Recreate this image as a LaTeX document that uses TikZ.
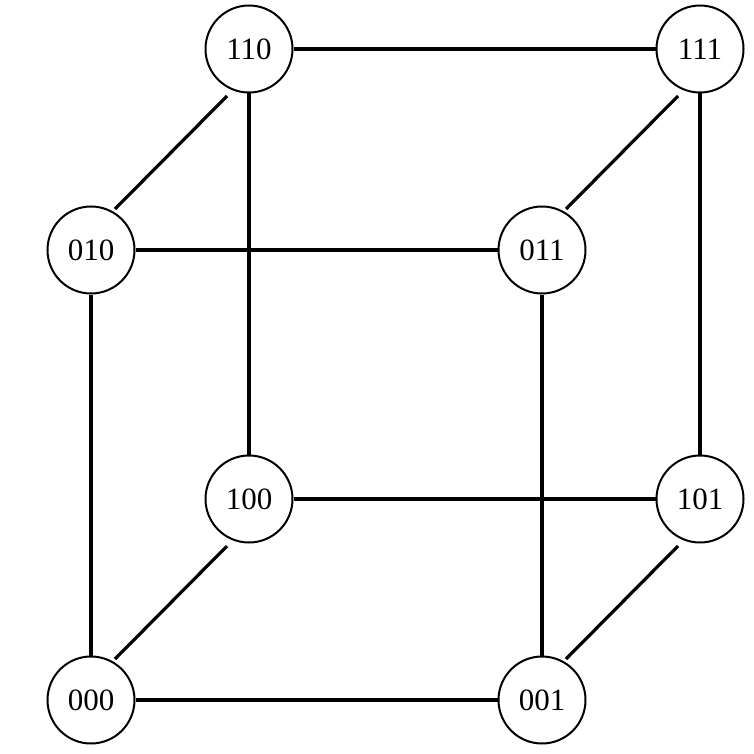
\documentclass[tikz,border=0pt]{standalone}
\usepackage{fontspec}
\setmainfont{Liberation Serif}
\usetikzlibrary{calc}
\begin{document}
\begin{tikzpicture}[x=1pt,y=-1pt,
  vtx/.style={circle,draw,line width=2pt,minimum size=87pt,inner sep=0pt,fill=white,font=\fontsize{31}{33}\selectfont},
  edge/.style={line width=3.2pt}]
\useasboundingbox[fill=white] (0,0) rectangle (753,754);
\node[vtx] (n110) at (249,49) {110};
\node[vtx] (n111) at (700,49) {111};
\node[vtx] (n010) at (91,250) {010};
\node[vtx] (n011) at (542,250) {011};
\node[vtx] (n100) at (249,499) {100};
\node[vtx] (n101) at (700,499) {101};
\node[vtx] (n000) at (91,700) {000};
\node[vtx] (n001) at (542,700) {001};
\draw[edge] (n110) -- (n111);
\draw[edge] (n110) -- (n100);
\draw[edge] (n111) -- (n101);
\draw[edge] (n010) -- (n011);
\draw[edge] (n010) -- (n000);
\draw[edge] (n011) -- (n001);
\draw[edge] (n100) -- (n101);
\draw[edge] (n000) -- (n001);
\draw[edge] ($(n110)+(-22,47)$) -- ($(n010)+(24,-41)$);
\draw[edge] ($(n111)+(-22,47)$) -- ($(n011)+(24,-41)$);
\draw[edge] ($(n100)+(-22,47)$) -- ($(n000)+(24,-41)$);
\draw[edge] ($(n101)+(-22,47)$) -- ($(n001)+(24,-41)$);
\end{tikzpicture}
\end{document}
